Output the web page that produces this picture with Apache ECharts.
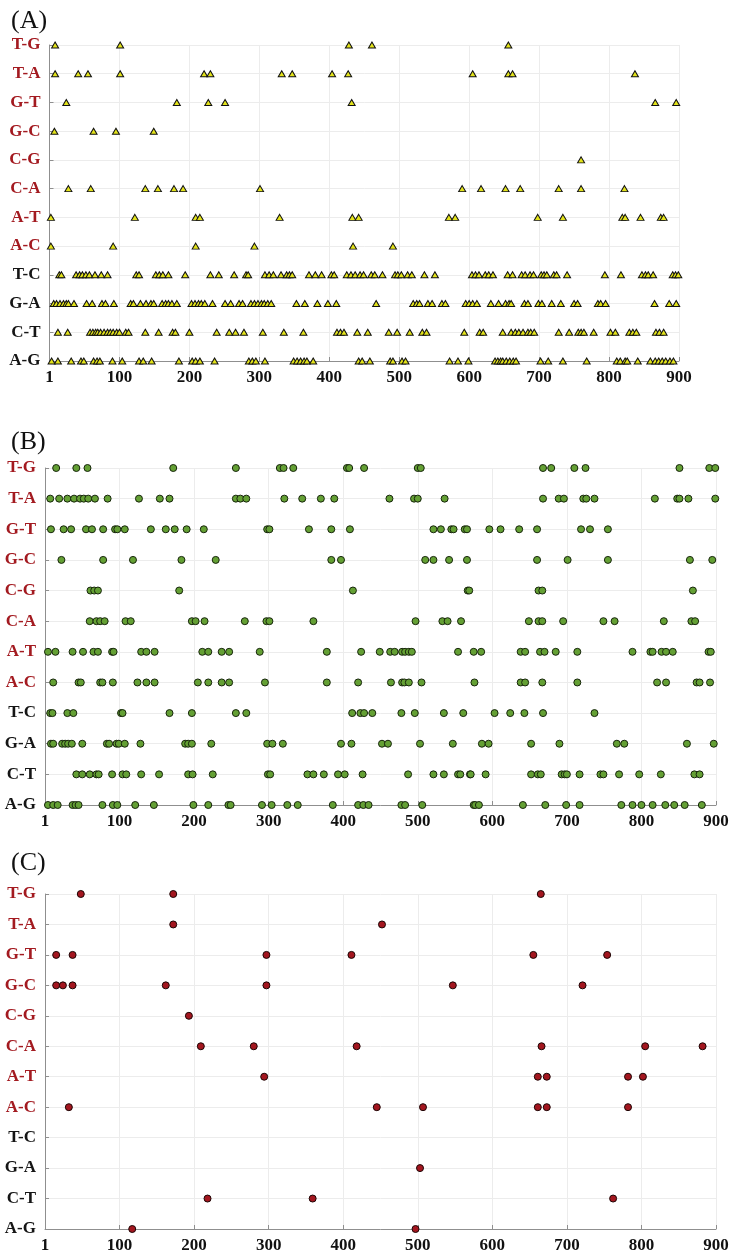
<!DOCTYPE html>
<html>
<head>
<meta charset="utf-8">
<script src="https://cdn.jsdelivr.net/npm/echarts@6/dist/echarts.min.js"></script>
<style>
html,body{margin:0;padding:0;background:#fff;}
#chart{width:733px;height:1254px;}
</style>
</head>
<body>
<div id="chart"></div>
<script>
// ---- categories & tick labels ----
const categories = ['A-G','C-T','G-A','T-C','A-C','A-T','C-A','C-G','G-C','G-T','T-A','T-G'];
const redCategories = ['A-C','A-T','C-A','C-G','G-C','G-T','T-A','T-G'];
const xTickLabels = ['1','100','200','300','400','500','600','700','800','900'];
const panelTitles = ['(A)','(B)','(C)'];

// ---- Panel A (triangles) ----
const A_TG = [8, 101, 428, 461, 656];
const A_TA = [8, 41, 55, 101, 221, 230, 332, 347, 404, 427, 605, 656, 662, 837];
const A_GT = [24, 182, 227, 251, 432, 866, 896];
const A_GC = [7, 63, 95, 149];
const A_CG = [760];
const A_CA = [27, 59, 137, 155, 178, 191, 301, 590, 617, 652, 673, 728, 760, 822];
const A_AT = [2, 122, 209, 215, 329, 433, 442, 571, 580, 698, 734, 819, 823, 845, 874, 878];
const A_AC = [2, 91, 209, 293, 434, 491];
const A_TC = [14, 17, 38, 43, 47, 52, 57, 65, 74, 83, 124, 128, 152, 157, 162, 170, 194, 230, 242, 264, 281, 284, 308, 314, 320, 331, 339, 343, 347, 371, 380, 389, 403, 407, 425, 431, 437, 444, 449, 460, 465, 476, 494, 498, 503, 512, 518, 536, 551, 604, 609, 614, 623, 628, 634, 655, 662, 675, 680, 687, 692, 703, 707, 711, 721, 725, 740, 794, 817, 847, 852, 856, 863, 891, 895, 899];
const A_GA = [6, 10, 15, 20, 24, 27, 35, 53, 61, 75, 80, 92, 116, 120, 130, 138, 145, 149, 161, 166, 170, 175, 182, 203, 208, 213, 217, 222, 233, 251, 259, 271, 276, 288, 293, 298, 303, 307, 312, 317, 353, 365, 383, 398, 410, 467, 520, 525, 529, 541, 547, 561, 566, 595, 600, 605, 611, 631, 642, 652, 657, 660, 679, 684, 699, 704, 718, 731, 750, 755, 784, 788, 795, 865, 886, 896];
const A_CT = [12, 26, 58, 62, 66, 69, 73, 78, 83, 87, 91, 96, 100, 109, 113, 137, 156, 176, 180, 200, 239, 257, 266, 278, 305, 335, 363, 411, 416, 421, 440, 455, 485, 497, 515, 533, 539, 593, 615, 620, 648, 660, 666, 671, 677, 684, 688, 693, 728, 743, 756, 760, 764, 778, 802, 809, 829, 834, 839, 867, 872, 878];
const A_AG = [3, 12, 31, 45, 49, 63, 68, 72, 90, 104, 128, 134, 146, 185, 204, 209, 215, 236, 285, 290, 295, 308, 349, 354, 359, 364, 368, 377, 442, 447, 458, 487, 491, 504, 509, 572, 584, 599, 637, 641, 645, 648, 653, 658, 663, 667, 702, 713, 734, 768, 811, 816, 823, 826, 841, 859, 866, 871, 876, 881, 887, 892];

// ---- Panel B (green circles) ----
const B_TG = [15, 42, 57, 172, 256, 315, 320, 333, 405, 408, 428, 500, 504, 668, 679, 710, 725, 851, 891, 899];
const B_TA = [7, 19, 30, 39, 47, 52, 58, 67, 84, 126, 154, 167, 256, 262, 270, 321, 345, 370, 388, 462, 495, 500, 536, 668, 689, 696, 722, 726, 737, 818, 848, 851, 863, 899];
const B_GT = [8, 25, 35, 55, 63, 78, 94, 97, 107, 142, 162, 174, 190, 213, 298, 301, 354, 384, 409, 521, 531, 545, 548, 563, 566, 596, 611, 636, 660, 719, 731, 755];
const B_GC = [22, 78, 118, 183, 229, 384, 397, 510, 521, 542, 566, 660, 701, 755, 865, 895];
const B_CG = [61, 66, 71, 180, 413, 567, 569, 662, 667, 869];
const B_CA = [60, 69, 74, 80, 108, 115, 197, 202, 214, 268, 297, 301, 360, 497, 533, 540, 558, 649, 662, 667, 695, 749, 764, 830, 867, 872];
const B_AT = [4, 14, 37, 51, 65, 71, 90, 92, 129, 136, 147, 211, 219, 237, 247, 288, 378, 424, 449, 463, 469, 479, 483, 488, 492, 554, 575, 585, 638, 644, 664, 670, 685, 714, 788, 812, 815, 827, 833, 842, 890, 893];
const B_AC = [11, 45, 48, 74, 77, 91, 124, 136, 147, 205, 219, 237, 247, 295, 378, 420, 464, 479, 482, 488, 505, 576, 638, 644, 667, 714, 821, 833, 874, 878, 892];
const B_TC = [7, 10, 30, 38, 102, 104, 167, 197, 256, 270, 412, 423, 428, 439, 478, 496, 535, 561, 603, 624, 643, 668, 737];
const B_GA = [8, 11, 23, 27, 31, 36, 50, 83, 86, 96, 99, 107, 128, 188, 192, 197, 223, 298, 305, 319, 397, 411, 452, 460, 503, 547, 586, 595, 652, 690, 767, 777, 861, 897];
const B_CT = [42, 50, 60, 69, 72, 90, 104, 109, 129, 153, 192, 198, 225, 299, 302, 352, 360, 374, 393, 402, 426, 487, 521, 535, 554, 557, 570, 571, 591, 652, 661, 665, 693, 697, 700, 717, 745, 749, 770, 797, 826, 871, 878];
const B_AG = [4, 11, 17, 37, 41, 45, 77, 91, 97, 121, 146, 199, 219, 246, 249, 291, 304, 325, 339, 386, 420, 427, 434, 478, 483, 506, 575, 577, 582, 641, 671, 699, 717, 773, 788, 800, 815, 832, 844, 858, 881];

// ---- Panel C (red circles) ----
const C_TG = [48, 172, 665];
const C_TA = [172, 452];
const C_GT = [15, 37, 297, 411, 655, 754];
const C_GC = [15, 24, 37, 162, 297, 547, 721];
const C_CG = [193];
const C_CA = [209, 280, 418, 666, 805, 882];
const C_AT = [294, 661, 673, 782, 802];
const C_AC = [32, 445, 507, 661, 673, 782];
const C_TC = [];
const C_GA = [503];
const C_CT = [218, 359, 762];
const C_AG = [117, 497];

// ---- build series data from arrays ----
function rowsToData(rows) {
  const out = [];
  categories.forEach((c, i) => { rows[i].forEach(x => out.push([x, c])); });
  return out;
}
const dataA = rowsToData([A_AG, A_CT, A_GA, A_TC, A_AC, A_AT, A_CA, A_CG, A_GC, A_GT, A_TA, A_TG]);
const dataB = rowsToData([B_AG, B_CT, B_GA, B_TC, B_AC, B_AT, B_CA, B_CG, B_GC, B_GT, B_TA, B_TG]);
const dataC = rowsToData([C_AG, C_CT, C_GA, C_TC, C_AC, C_AT, C_CA, C_CG, C_GC, C_GT, C_TA, C_TG]);

const serif = '"Liberation Serif", "Times New Roman", serif';
const grids = [
  {left: 49.5, right: 54, top: 45, height: 316},
  {left: 45, right: 17, top: 468, height: 337},
  {left: 45, right: 17, top: 894, height: 336}
];
const titleTops = [3, 424, 845];

function xAxisFor(i) {
  return {
    type: 'value', gridIndex: i, min: 0, max: 900, interval: 100,
    axisLine: {show: true, lineStyle: {color: '#8f8f8f', width: 1}},
    axisTick: {show: true, inside: true, length: 4, lineStyle: {color: '#8f8f8f'}},
    splitLine: {show: true, lineStyle: {color: '#ececec', width: 1}},
    axisLabel: {
      margin: 8, fontFamily: serif, fontWeight: 'bold', fontSize: 17, color: '#111',
      formatter: v => xTickLabels[Math.round(v / 100)]
    }
  };
}
function yAxisFor(i) {
  return {
    type: 'category', gridIndex: i, data: categories, boundaryGap: false,
    axisLine: {show: true, lineStyle: {color: '#8f8f8f', width: 1}},
    axisTick: {show: true, inside: true, length: 4, lineStyle: {color: '#8f8f8f'}},
    splitLine: {show: true, lineStyle: {color: '#ececec', width: 1}},
    axisLabel: {
      margin: 9, fontFamily: serif, fontWeight: 'bold', fontSize: 17,
      color: v => redCategories.indexOf(v) >= 0 ? '#a31a20' : '#151515'
    }
  };
}

const chart = echarts.init(document.getElementById('chart'), null, {renderer: 'canvas'});
chart.setOption({
  animation: false,
  backgroundColor: '#ffffff',
  title: panelTitles.map((t, i) => ({
    text: t, left: 6, top: titleTops[i],
    textStyle: {fontFamily: serif, fontWeight: 'normal', fontSize: 26, color: '#111'}
  })),
  grid: grids,
  xAxis: [0, 1, 2].map(xAxisFor),
  yAxis: [0, 1, 2].map(yAxisFor),
  series: [
    {type: 'scatter', xAxisIndex: 0, yAxisIndex: 0, data: dataA, symbol: 'triangle', symbolSize: [7, 6],
     itemStyle: {color: '#e3e31a', borderColor: '#111', borderWidth: 1, opacity: 1}},
    {type: 'scatter', xAxisIndex: 1, yAxisIndex: 1, data: dataB, symbol: 'circle', symbolSize: 7,
     itemStyle: {color: '#64a034', borderColor: '#17250c', borderWidth: 1, opacity: 1}},
    {type: 'scatter', xAxisIndex: 2, yAxisIndex: 2, data: dataC, symbol: 'circle', symbolSize: 7,
     itemStyle: {color: '#a3161f', borderColor: '#1c0505', borderWidth: 1, opacity: 1}}
  ]
});
</script>
</body>
</html>
